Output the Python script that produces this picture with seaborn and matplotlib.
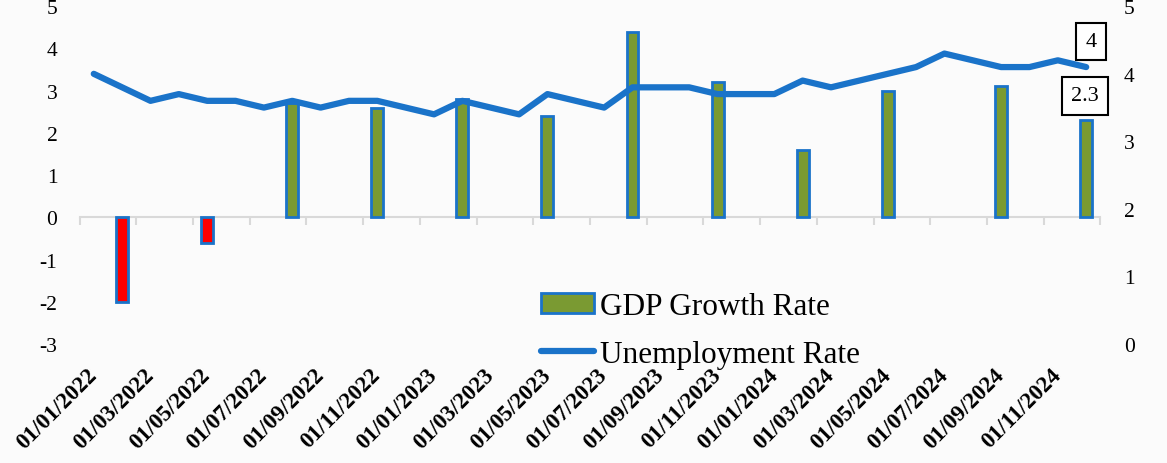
import numpy as np
import pandas as pd
import matplotlib
matplotlib.use("Agg")
import matplotlib.pyplot as plt
import seaborn as sns
from matplotlib.patches import Patch
from matplotlib.lines import Line2D
from matplotlib.ticker import FixedLocator, FixedFormatter

# ---------------- data ----------------
months = pd.date_range("2022-01-01", "2024-12-01", freq="MS").strftime("%d/%m/%Y").tolist()
unemployment = [4.0, 3.8, 3.6, 3.7, 3.6, 3.6, 3.5, 3.6, 3.5, 3.6, 3.6, 3.5,
                3.4, 3.6, 3.5, 3.4, 3.7, 3.6, 3.5, 3.8, 3.8, 3.8, 3.7, 3.7,
                3.7, 3.9, 3.8, 3.9, 4.0, 4.1, 4.3, 4.2, 4.1, 4.1, 4.2, 4.1]
gdp_months = ["01/02/2022", "01/05/2022", "01/08/2022", "01/11/2022",
              "01/02/2023", "01/05/2023", "01/08/2023", "01/11/2023",
              "01/02/2024", "01/05/2024", "01/09/2024", "01/12/2024"]
gdp_growth = [-2.0, -0.6, 2.7, 2.6, 2.8, 2.4, 4.4, 3.2, 1.6, 3.0, 3.1, 2.3]
tick_labels = months[::2]
left_ticks = [-3, -2, -1, 0, 1, 2, 3, 4, 5]
right_ticks = [0, 1, 2, 3, 4, 5]
gdp_end_label = "2.3"
unemp_end_label = "4"
series_names = ["GDP Growth Rate", "Unemployment Rate"]

# ---------------- style ----------------
GREEN = "#7A9A32"
RED = "#FF0000"
BLUE = "#1A73C9"
AXIS_GRAY = "#D9D9D9"
BG = "#FBFBFB"

sns.set_style("white")
plt.rcParams["font.family"] = ["Liberation Serif", "DejaVu Serif"]
plt.rcParams["axes.unicode_minus"] = False
plt.rcParams["text.color"] = "black"
plt.rcParams["xtick.color"] = "black"
plt.rcParams["ytick.color"] = "black"
plt.rcParams["xtick.labelcolor"] = "black"
plt.rcParams["ytick.labelcolor"] = "black"

fig = plt.figure(figsize=(11.67, 4.64), dpi=100, facecolor=BG)
ax = fig.add_axes([0.0682, 0.2565, 0.8747, 0.7278])
ax.set_facecolor(BG)

df = pd.DataFrame({"month": gdp_months, "gdp": gdp_growth})
df["sign"] = np.where(df["gdp"] < 0, "neg", "pos")
sns.barplot(data=df, x="month", y="gdp", order=months, hue="sign",
            palette={"pos": GREEN, "neg": RED}, saturation=1, dodge=False,
            width=0.42, edgecolor=BLUE, linewidth=2, legend=False, ax=ax, zorder=3)

ax2 = ax.twinx()
sns.lineplot(x=np.arange(len(months)), y=unemployment, ax=ax2, color=BLUE,
             lw=4.5, solid_capstyle="round", solid_joinstyle="round")

# axes limits
ax.set_xlim(-0.5, len(months) - 0.5)
ax.set_ylim(-3, 5)
ax2.set_ylim(0, 5)

# x axis: line through zero with boundary ticks, labels at the bottom
ax.spines["bottom"].set_position(("data", 0))
ax.spines["bottom"].set_color(AXIS_GRAY)
ax.spines["bottom"].set_linewidth(1.5)
for s in ["left", "right", "top"]:
    ax.spines[s].set_visible(False)
for s in ["left", "right", "top", "bottom"]:
    ax2.spines[s].set_visible(False)

ax.xaxis.set_major_locator(FixedLocator(np.arange(0, len(months), 2)))
ax.xaxis.set_major_formatter(FixedFormatter(tick_labels))
ax.xaxis.set_minor_locator(FixedLocator(np.arange(-0.5, len(months), 2)))
ax.tick_params(axis="x", which="major", length=0, labelbottom=False)
ax.tick_params(axis="x", which="minor", length=6, width=1.5, color=AXIS_GRAY,
               bottom=True, direction="out")

ax2.xaxis.set_visible(True)
ax2.tick_params(axis="x", which="both", length=0, labelbottom=True,
                labeltop=False, pad=20, labelsize=16.5, labelcolor="black")
for t in ax2.get_xticklabels():
    t.set_rotation(45)
    t.set_ha("right")
    t.set_va("center")
    t.set_rotation_mode("anchor")
    t.set_fontweight("bold")

ax.set_yticks(left_ticks)
ax.tick_params(axis="y", length=0, pad=16, labelsize=15.5, labelcolor="black")
ax2.set_yticks(right_ticks)
ax2.tick_params(axis="y", length=0, pad=17, labelsize=15.5, labelcolor="black")
for a in (ax, ax2):
    a.set_xlabel("")
    a.set_ylabel("")

# end labels
box = dict(boxstyle="square,pad=0.42", fc="white", ec="black", lw=1.5)
ax.annotate(gdp_end_label, xy=(len(months) - 1, gdp_growth[-1]), xytext=(-1, 17.5),
            textcoords="offset points", ha="center", va="center", fontsize=16,
            color="black", bbox=box, zorder=5)
ax2.annotate(unemp_end_label, xy=(len(months) - 1, unemployment[-1]), xytext=(3.5, 18.5),
             textcoords="offset points", ha="center", va="center", fontsize=16,
             color="black", bbox=box, zorder=5)

# legend
handles = [Patch(facecolor=GREEN, edgecolor=BLUE, linewidth=2),
           Line2D([0], [0], color=BLUE, lw=4.5, solid_capstyle="round")]
leg = fig.legend(handles, series_names, loc="upper left",
                 bbox_to_anchor=(541 / 1167, 1 - 293 / 464), frameon=False, fontsize=22.5,
                 handlelength=1.7, handleheight=0.6, handletextpad=0.2, borderpad=0,
                 borderaxespad=0, labelspacing=0.6)
for txt in leg.get_texts():
    txt.set_color("black")

fig.savefig("out.png", dpi=100, facecolor=BG)
